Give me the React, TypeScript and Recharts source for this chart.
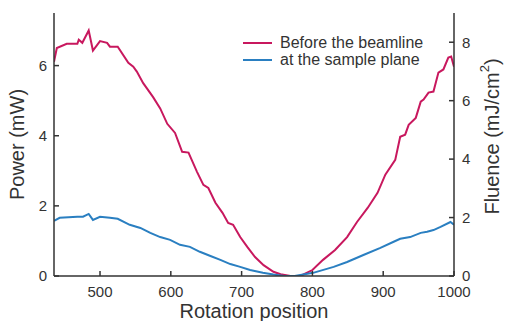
import { LineChart, Line, XAxis, YAxis } from "recharts";

const beforePos = [
  435, 439, 453, 468, 470, 475, 484, 490, 500, 510, 514, 525, 540, 547, 552, 561, 575, 585, 595, 606,
  616, 625, 637, 646, 653, 663, 673, 681, 688, 698, 708, 719, 731, 745, 755, 769, 783, 800, 815, 832,
  849, 863, 878, 892, 903, 917, 924, 931, 936, 946, 953, 957, 964, 971, 978, 985, 992, 996, 1000,
];
const beforePower = [
  6.11, 6.5, 6.62, 6.62, 6.74, 6.65, 7.0, 6.43, 6.7, 6.65, 6.54, 6.54, 6.08, 5.97, 5.83, 5.5, 5.1, 4.78, 4.34, 4.08,
  3.54, 3.52, 2.97, 2.6, 2.51, 2.09, 1.8, 1.51, 1.46, 1.11, 0.83, 0.54, 0.31, 0.12, 0.05, 0, 0, 0.17, 0.46, 0.74,
  1.11, 1.54, 1.94, 2.37, 2.89, 3.31, 3.97, 4.03, 4.31, 4.51, 4.97, 5.03, 5.23, 5.26, 5.8, 5.89, 6.23, 6.26, 5.97,
];

const samplePos = [
  435, 443, 468, 476, 484, 490, 500, 514, 525, 542, 557, 571, 585, 599, 613, 627, 641, 656, 670, 684,
  698, 712, 730, 745, 760, 775, 801, 830, 849, 872, 896, 914, 924, 938, 953, 962, 971, 981, 995, 1000,
];
const samplePower = [
  1.57, 1.66, 1.69, 1.69, 1.77, 1.6, 1.69, 1.66, 1.63, 1.46, 1.37, 1.23, 1.11, 1.03, 0.89, 0.83, 0.69, 0.57, 0.46, 0.34,
  0.26, 0.17, 0.09, 0.04, 0, 0, 0.09, 0.26, 0.4, 0.6, 0.8, 0.97, 1.06, 1.11, 1.23, 1.26, 1.31, 1.4, 1.54, 1.46,
];

const xTicks = [500, 600, 700, 800, 900, 1000];
const powerTicks = [0, 2, 4, 6];
const fluenceTicks = [0, 2, 4, 6, 8];

const beforeData = beforePos.map((pos, i) => ({ pos, power: beforePower[i] }));
const sampleData = samplePos.map((pos, i) => ({ pos, power: samplePower[i] }));

const MAGENTA = "#c8185e";
const BLUE = "#2a7fc1";
const AXIS = "#333";
const FONT = "'Liberation Sans', Arial, sans-serif";

const legendItems = [
  { label: "Before the beamline", color: MAGENTA },
  { label: "at the sample plane", color: BLUE },
];

const tickStyle = { fontSize: 15, fill: "#333", fontFamily: FONT };

export default function App() {
  return (
    <div style={{ position: "absolute", left: 0, top: 0, width: 507, height: 321, background: "#fff" }}>
      <LineChart width={507} height={321} margin={{ top: 13, right: 0, bottom: 0, left: 0 }}>
        <XAxis
          xAxisId="bottom"
          dataKey="pos"
          type="number"
          domain={[435, 1000]}
          ticks={xTicks}
          allowDataOverflow
          height={45}
          tickSize={-5}
          tickMargin={15}
          tick={tickStyle}
          stroke={AXIS}
          strokeWidth={1.5}
          label={{
            content: ({ viewBox }: any) => (
              <text
                x={viewBox.x + viewBox.width / 2}
                y={318}
                textAnchor="middle"
                fontSize={20}
                fill="#333"
                fontFamily={FONT}
              >
                Rotation position
              </text>
            ),
          }}
        />
        <XAxis
          xAxisId="top"
          orientation="top"
          dataKey="pos"
          type="number"
          domain={[435, 1000]}
          ticks={xTicks}
          allowDataOverflow
          height={0}
          tickSize={-5}
          tick={false as any}
          stroke={AXIS}
          strokeWidth={1.5}
        />
        <YAxis
          yAxisId="left"
          type="number"
          domain={[0, 7.5]}
          ticks={powerTicks}
          allowDataOverflow
          width={54}
          tickSize={-5}
          tickMargin={12}
          tick={tickStyle}
          stroke={AXIS}
          strokeWidth={1.5}
          label={{
            content: ({ viewBox }: any) => {
              const cx = 17;
              const cy = viewBox.y + viewBox.height / 2;
              return (
                <text
                  x={cx}
                  y={cy}
                  transform={`rotate(-90, ${cx}, ${cy})`}
                  textAnchor="middle"
                  dominantBaseline="central"
                  fontSize={20}
                  fill="#333"
                  fontFamily={FONT}
                >
                  Power (mW)
                </text>
              );
            },
          }}
        />
        <YAxis
          yAxisId="right"
          orientation="right"
          type="number"
          domain={[0, 9]}
          ticks={fluenceTicks}
          allowDataOverflow
          width={53}
          tickSize={-5}
          tickMargin={13}
          tick={tickStyle}
          stroke={AXIS}
          strokeWidth={1.5}
          label={{
            content: ({ viewBox }: any) => {
              const cx = 492;
              const cy = viewBox.y + viewBox.height / 2 - 8;
              return (
                <text
                  x={cx}
                  y={cy}
                  transform={`rotate(-90, ${cx}, ${cy})`}
                  textAnchor="middle"
                  dominantBaseline="central"
                  fontSize={20}
                  fill="#333"
                  fontFamily={FONT}
                >
                  Fluence (mJ/cm
                  <tspan dy={-8} fontSize={13}>
                    2
                  </tspan>
                  <tspan dy={8}>)</tspan>
                </text>
              );
            },
          }}
        />
        <Line
          data={beforeData}
          xAxisId="bottom"
          yAxisId="left"
          dataKey="power"
          type="linear"
          stroke={MAGENTA}
          strokeWidth={2}
          dot={false}
          isAnimationActive={false}
        />
        <Line
          data={sampleData}
          xAxisId="bottom"
          yAxisId="left"
          dataKey="power"
          type="linear"
          stroke={BLUE}
          strokeWidth={2}
          dot={false}
          isAnimationActive={false}
        />
      </LineChart>
      {/* legend drawn over the plot, top right */}
      <div
        style={{
          position: "absolute",
          left: 243,
          top: 34,
          fontFamily: FONT,
          fontSize: 16,
          color: "#333",
          lineHeight: "17px",
        }}
      >
        {legendItems.map((it) => (
          <div key={it.label} style={{ display: "flex", alignItems: "center" }}>
            <span style={{ display: "inline-block", width: 29, height: 2, background: it.color, marginRight: 8 }} />
            <span>{it.label}</span>
          </div>
        ))}
      </div>
    </div>
  );
}
